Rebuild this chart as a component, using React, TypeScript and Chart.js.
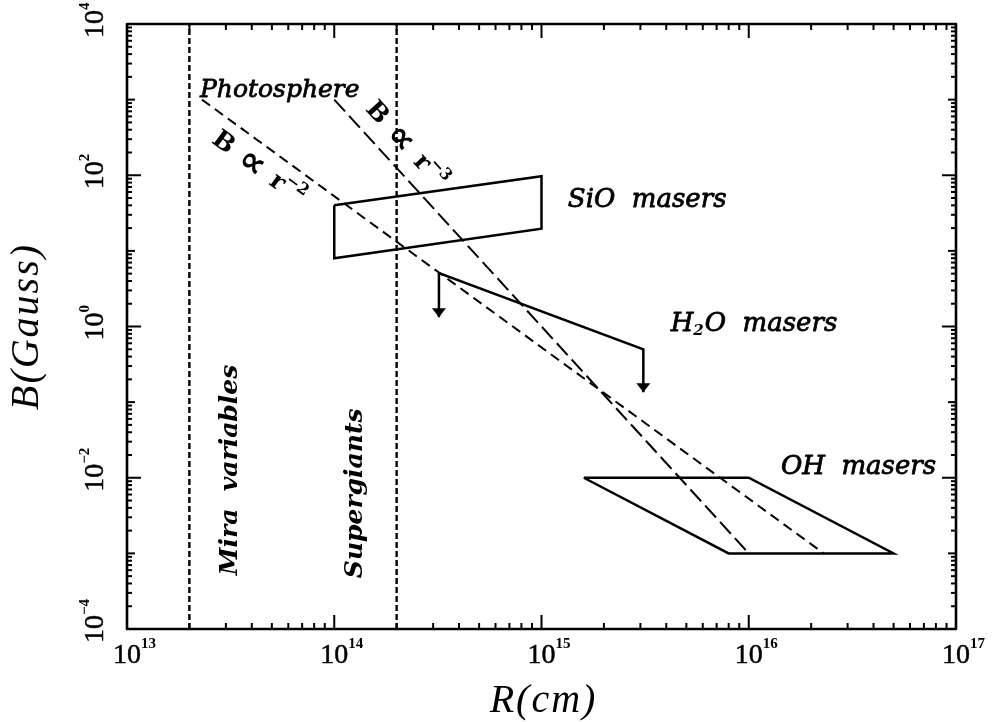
import React, { useEffect, useRef } from "react";
import { Chart, registerables } from "chart.js";
Chart.register(...registerables);

// ---- axis ranges and tick labels ----
const R_MIN = 1e13;
const R_MAX = 1e17;
const B_MIN = 1e-4;
const B_MAX = 1e4;
const xTickExps = [13, 14, 15, 16, 17];
const yTickExps = [4, 2, 0, -2, -4];

// ---- vertical boundaries ----
const miraR = [2e13, 2e13];
const miraB = [1e-4, 1e4];
const superR = [2e14, 2e14];
const superB = [1e-4, 1e4];

// ---- power laws ----
const r2R = [2.3e13, 2.3e16];
const r2B = [1e3, 1e-3];
const r3R = [1e14, 1e16];
const r3B = [1e3, 1e-3];

// ---- maser regions ----
const sioR = [1e14, 1e15, 1e15, 1e14, 1e14];
const sioB = [40, 97, 19.6, 8, 40];

const h2oR = [3.2e14, 3.2e14, 3.1e15, 3.1e15];
const h2oB = [1.33, 5.1, 0.5, 0.135];
const h2oArrowR = [3.2e14, 3.1e15];
const h2oArrowB = [1.33, 0.135];

const ohR = [1.6e15, 1e16, 5e16, 8e15, 1.6e15];
const ohB = [0.01, 0.01, 0.001, 0.001, 0.01];

const pts = (rs: number[], bs: number[]) => rs.map((r, i) => ({ x: r, y: bs[i] }));

const SERIF = '"DejaVu Serif", serif';
const SANS = '"DejaVu Sans", sans-serif';
const TIMES = '"Liberation Serif", serif';

const decor = {
  id: "decor",
  afterDraw(chart: any) {
    const ctx: CanvasRenderingContext2D = chart.ctx;
    const xs = chart.scales.x;
    const ys = chart.scales.y;
    const ca = chart.chartArea;
    const X = (v: number) => xs.getPixelForValue(v);
    const Y = (v: number) => ys.getPixelForValue(v);
    const seg = (x1: number, y1: number, x2: number, y2: number) => {
      ctx.beginPath();
      ctx.moveTo(x1, y1);
      ctx.lineTo(x2, y2);
      ctx.stroke();
    };
    const heavy = (t: string, x: number, y: number, w = 0.6) => {
      ctx.fillText(t, x, y);
      ctx.lineWidth = w;
      ctx.strokeText(t, x, y);
    };
    ctx.save();
    ctx.strokeStyle = "#000";
    ctx.fillStyle = "#000";
    ctx.setLineDash([]);
    ctx.lineJoin = "round";

    // x ticks (bottom & top, inward)
    ctx.lineWidth = 2;
    for (let d = 13; d <= 16; d++) {
      for (let m = 1; m <= 9; m++) {
        const p = X(m * Math.pow(10, d));
        const len = m === 1 ? 14 : 6;
        seg(p, ca.bottom, p, ca.bottom - len);
        seg(p, ca.top, p, ca.top + len);
      }
    }
    // y ticks (left & right, inward)
    for (let d = -4; d <= 3; d++) {
      for (let m = 1; m <= 9; m++) {
        const p = Y(m * Math.pow(10, d));
        const len = m === 1 ? (d % 2 === 0 ? 14 : 8) : 5;
        seg(ca.left, p, ca.left + len, p);
        seg(ca.right, p, ca.right - len, p);
      }
    }
    // frame
    ctx.lineWidth = 2.6;
    ctx.strokeRect(ca.left, ca.top, ca.right - ca.left, ca.bottom - ca.top);

    // x tick labels
    ctx.textBaseline = "alphabetic";
    ctx.textAlign = "left";
    xTickExps.forEach((e) => {
      const p = X(Math.pow(10, e));
      ctx.font = `28px ${TIMES}`;
      const wb = ctx.measureText("10").width;
      heavy("10", p - wb / 2, ca.bottom + 34, 0.5);
      ctx.font = `bold 15px ${TIMES}`;
      ctx.fillText(String(e).replace("-", "\u2212"), p + wb / 2, ca.bottom + 19);
    });
    // y tick labels (rotated)
    yTickExps.forEach((e) => {
      const p = Y(Math.pow(10, e));
      ctx.save();
      ctx.translate(ca.left - 24, p);
      ctx.rotate(-Math.PI / 2);
      ctx.font = `28px ${TIMES}`;
      const wb = ctx.measureText("10").width;
      heavy("10", -wb / 2, 0, 0.5);
      ctx.font = `bold 15px ${TIMES}`;
      ctx.fillText(String(e).replace("-", "\u2212"), wb / 2, -14);
      ctx.restore();
    });

    // axis titles
    ctx.font = `italic 40px ${TIMES}`;
    (ctx as any).letterSpacing = "2px";
    ctx.textAlign = "center";
    ctx.fillText("R(cm)", (ca.left + ca.right) / 2 + 2, ca.bottom + 83);
    ctx.save();
    ctx.translate(38, (ca.top + ca.bottom) / 2);
    ctx.rotate(-Math.PI / 2);
    ctx.fillText("B(Gauss)", 0, 0);
    ctx.restore();
    (ctx as any).letterSpacing = "0px";

    // arrowheads
    h2oArrowR.forEach((r, i) => {
      const tx = X(r);
      const ty = Y(h2oArrowB[i]);
      ctx.beginPath();
      ctx.moveTo(tx - 7, ty - 9);
      ctx.lineTo(tx + 7, ty - 9);
      ctx.lineTo(tx, ty);
      ctx.closePath();
      ctx.fill();
    });

    // text annotations
    ctx.textAlign = "left";
    ctx.textBaseline = "alphabetic";
    ctx.font = `italic 25px ${SERIF}`;
    heavy("Photosphere", X(2.25e13), Y(1.08e3), 0.8);
    ctx.font = `italic 26px ${SERIF}`;
    heavy("SiO  masers", X(1.34e15), Y(38), 0.8);
    heavy("OH  masers", X(1.43e16), Y(0.0112), 0.8);
    {
      let x = X(4.2e15);
      const y = Y(0.87);
      ctx.font = `italic 26px ${SERIF}`;
      heavy("H", x, y, 0.8);
      x += ctx.measureText("H").width;
      ctx.font = `italic bold 15px ${SERIF}`;
      ctx.fillText("2", x, y + 4);
      x += ctx.measureText("2").width + 1;
      ctx.font = `italic 26px ${SERIF}`;
      heavy("O  masers", x, y, 0.8);
    }
    // rotated region labels
    const vtext = (t: string, r: number, b: number) => {
      ctx.save();
      ctx.translate(X(r), Y(b));
      ctx.rotate(-Math.PI / 2);
      ctx.font = `italic bold 25px ${SERIF}`;
      ctx.fillText(t, 0, 0);
      ctx.restore();
    };
    vtext("Mira  variables", 3.4e13, 5.15e-4);
    vtext("Supergiants", 1.36e14, 4.7e-4);

    // power-law labels along the lines
    const lawLabel = (
      lr: number[], lb: number[], ar: number, ab: number, exp: string
    ) => {
      const ang = Math.atan2(Y(lb[1]) - Y(lb[0]), X(lr[1]) - X(lr[0]));
      ctx.save();
      ctx.translate(X(ar), Y(ab));
      ctx.rotate(ang);
      ctx.textAlign = "center";
      ctx.textBaseline = "middle";
      ctx.font = `bold 25px ${SERIF}`;
      ctx.fillText("B", 0, 0);
      ctx.font = `bold 36px ${SANS}`;
      ctx.fillText("\u221D", 35, 0);
      ctx.font = `bold 25px ${SERIF}`;
      ctx.fillText("r", 67, 0);
      ctx.font = `bold 16px ${SERIF}`;
      ctx.fillText("\u2212" + exp, 85, -9);
      ctx.restore();
    };
    lawLabel(r2R, r2B, 2.91e13, 267, "2");
    lawLabel(r3R, r3B, 1.6e14, 660, "3");

    ctx.restore();
  },
};

export default function App() {
  const ref = useRef<HTMLCanvasElement>(null);
  useEffect(() => {
    if (!ref.current) return;
    const common = {
      showLine: true,
      pointRadius: 0,
      fill: false,
      borderColor: "#000",
      backgroundColor: "#000",
      tension: 0,
    };
    const chart = new Chart(ref.current, {
      type: "scatter",
      data: {
        datasets: [
          { ...common, data: pts(miraR, miraB), borderWidth: 2.4, borderDash: [6, 3] },
          { ...common, data: pts(superR, superB), borderWidth: 2.4, borderDash: [6, 3] },
          { ...common, data: pts(r2R, r2B), borderWidth: 2, borderDash: [10, 6] },
          { ...common, data: pts(r3R, r3B), borderWidth: 2, borderDash: [16, 6] },
          { ...common, data: pts(sioR, sioB), borderWidth: 2.5 },
          { ...common, data: pts(h2oR, h2oB), borderWidth: 2.5 },
          { ...common, data: pts(ohR, ohB), borderWidth: 2.5 },
        ],
      },
      options: {
        animation: false,
        responsive: false,
        events: [],
        layout: { padding: { left: 127, top: 24, right: 40, bottom: 93 } },
        plugins: { legend: { display: false }, tooltip: { enabled: false } },
        scales: {
          x: { type: "logarithmic", min: R_MIN, max: R_MAX, display: false },
          y: { type: "logarithmic", min: B_MIN, max: B_MAX, display: false },
        },
      },
      plugins: [decor],
    } as any);
    return () => chart.destroy();
  }, []);
  return (
    <div style={{ position: "fixed", left: 0, top: 0, width: 996, height: 722, background: "#fff" }}>
      <canvas ref={ref} width={996} height={722} style={{ width: 996, height: 722, display: "block" }} />
    </div>
  );
}
